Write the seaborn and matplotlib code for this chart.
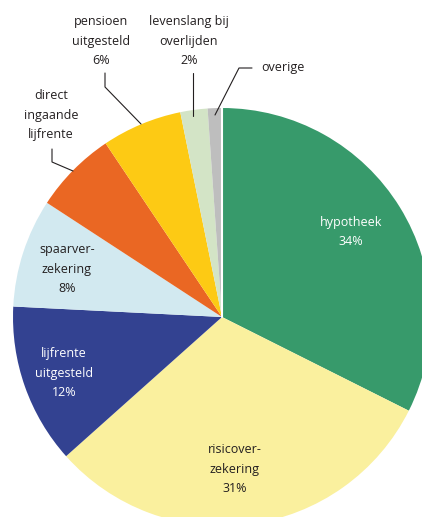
import matplotlib
matplotlib.use('Agg')
import matplotlib.pyplot as plt
import seaborn as sns
from matplotlib.lines import Line2D

# wedge shares as drawn in the picture (clockwise from 12 o'clock)
categories = ['hypotheek', 'risicoverzekering', 'lijfrente uitgesteld', 'spaarverzekering',
              'direct ingaande lijfrente', 'pensioen uitgesteld', 'levenslang bij overlijden', 'overige']
shares = [32.4, 31.0, 12.4, 8.4, 6.4, 6.2, 2.1, 1.1]
label_texts = ['hypotheek\n34%', 'risicover-\nzekering\n31%', 'lijfrente\nuitgesteld\n12%',
               'spaarver-\nzekering\n8%', 'direct\ningaande\nlijfrente', 'pensioen\nuitgesteld\n6%',
               'levenslang bij\noverlijden\n2%', 'overige']
colors = ['#379A6B', '#FAF09E', '#334291', '#D2E9F0', '#EA6723', '#FDCA14', '#D3E4C6', '#BEBEBE']
text_colors = ['white', '#231F20', 'white', '#231F20', '#231F20', '#231F20', '#231F20', '#231F20']

W, H = 422, 517
CX, CY, R = 222, 317, 209  # pie centre and radius in pixels

sns.set_theme(style='white')
plt.rcParams['font.family'] = ['Open Sans', 'DejaVu Sans']

fig = plt.figure(figsize=(W / 100, H / 100), dpi=100)
ax = fig.add_axes([0, 0, 1, 1])
ax.pie(shares, colors=colors, startangle=90, counterclock=False, radius=1,
       wedgeprops=dict(linewidth=0))
ax.set_xlim(-CX / R, (W - CX) / R)
ax.set_ylim(-(H - CY) / R, CY / R)
ax.axis('off')

# thin white gap at the start of the first wedge
ax.plot([0, 0], [0, 1], color='white', lw=1.5)


def fxy(px, py):
    return px / W, 1 - py / H


# label positions (pixel centres)
label_pos = [(351, 232), (235, 469), (64, 373), (67, 269), (51, 115), (101, 41), (189, 41), (283, 68)]
for txt, (px, py), c in zip(label_texts, label_pos, text_colors):
    x, y = fxy(px, py)
    fig.text(x, y, txt, ha='center', va='center', color=c, fontsize=9,
             linespacing=1.62, transform=fig.transFigure)

# leader lines
leaders = [
    [(52, 149), (52, 162), (73, 171)],
    [(105, 73), (105, 87), (141, 124)],
    [(193, 73), (193, 116)],
    [(252, 68), (239, 68), (215, 115)],
]
for pts in leaders:
    xs = [fxy(*p)[0] for p in pts]
    ys = [fxy(*p)[1] for p in pts]
    fig.add_artist(Line2D(xs, ys, color='#231F20', lw=0.8, transform=fig.transFigure))

fig.savefig('out.png', dpi=100)
